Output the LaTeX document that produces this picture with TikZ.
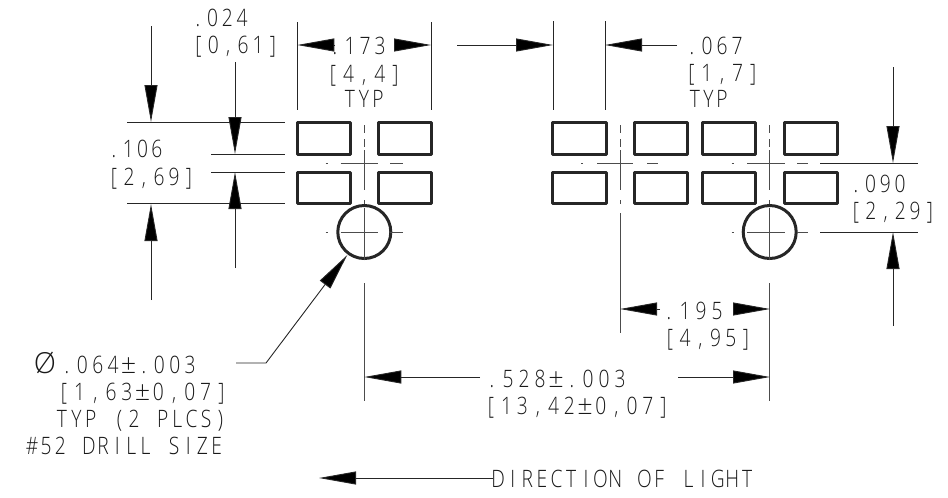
\documentclass[tikz,border=0pt]{standalone}
\usepackage{fontspec}
\usetikzlibrary{arrows.meta}
\setmainfont{Liberation Sans}
\newfontfamily\dimfont[FakeStretch=0.8]{Open Sans Light}
\newfontfamily\phifont{Open Sans Light}
\ExplSyntaxOn
\NewDocumentCommand\pitched{mm}{
  \str_map_inline:nn{#2}{\hbox_to_wd:nn{#1pt}{\hss ##1 \hss}}
}
\ExplSyntaxOff
\newcommand\pmbox[1]{\hbox to #1pt{\hss\phifont\fontsize{27}{27}\selectfont ±\hss}}
\tikzset{
  thinline/.style={line width=0.9pt,black!85},
  cline/.style={line width=0.9pt,black!70},
  pad/.style={line width=3pt,black!85,line join=round},
  hole/.style={line width=3pt,black!85},
  dim/.style={thinline,-{Triangle[length=37pt,width=13pt,fill=black]}},
  lbl/.style={anchor=base west,inner sep=0pt,outer sep=0pt,font=\dimfont\fontsize{24}{24}\selectfont,text=black!90}
}
\begin{document}
\begin{tikzpicture}[x=1pt,y=-1pt]
\useasboundingbox (0,0) rectangle (948,498);
% pads
\foreach \xa/\xb in {297.5/350,378/431.5,552.5/606,634/687.5,702.5/755.5,784/837}{
  \draw[pad] (\xa,122) rectangle (\xb,154);
  \draw[pad] (\xa,172) rectangle (\xb,203.5);
}
% holes
\draw[hole] (364.3,232) circle (26.5);
\draw[hole] (769.7,232) circle (26.5);
% centre lines, vertical
\foreach \cx in {364.3,620,769.7}{
  \draw[cline] (\cx,125)--(\cx,133) (\cx,139)--(\cx,147) (\cx,150)--(\cx,190) (\cx,200)--(\cx,204);
}
\draw[cline] (364.3,208)--(364.3,260) (364.3,283)--(364.3,401);
\draw[cline] (769.7,208)--(769.7,260) (769.7,283)--(769.7,401);
\draw[cline] (620,213)--(620,333);
% centre lines, horizontal
\foreach \cy in {163,232}{
  \draw[cline] (325.5,\cy)--(328,\cy) (340.7,\cy)--(378,\cy) (390,\cy)--(403,\cy);
  \draw[cline] (731.5,\cy)--(734,\cy) (747,\cy)--(785,\cy) (797,\cy)--(808,\cy);
}
\draw[cline] (581,163)--(583,163) (597,163)--(633,163) (647,163)--(658,163);
% extension lines
\draw[thinline] (127,122)--(285,122) (211,154)--(285,154) (211,172)--(285,172) (127,203.7)--(285,203.7);
\draw[thinline] (297.3,22)--(297.3,110) (431,22)--(431,110) (553,21)--(553,110) (605,21)--(605,110);
\draw[thinline] (820,163)--(918,163) (820,232)--(918,232);
% dimension arrows
\draw[dim] (151,26)--(151,122);
\draw[dim] (235,62)--(235,154);
\draw[dim] (235,268)--(235,172);
\draw[dim] (151,300)--(151,204);
\draw[dim] (335,45)--(297.3,45);
\draw[dim] (394,45)--(431,45);
\draw[dim] (457,45)--(553,45);
\draw[dim] (677,45)--(605,45);
\draw[dim] (893,67)--(893,163);
\draw[dim] (893,326)--(893,232);
\draw[dim] (660,309)--(620,309);
\draw[dim] (737,309)--(770,309);
\draw[dim] (480,377)--(364.3,377);
\draw[dim] (678,377)--(770,377);
\draw[dim] (236,363)--(266,363)--(347.3,255);
\draw[dim] (493,478)--(319,478);
% labels
\node[lbl] (a1) at (190.6,26) {\pitched{14.7}{.024}};
\node[lbl] (a2) at (191,53) {\pitched{14.9}{[0,61]}};
\node[lbl] (b1) at (106.8,157) {\pitched{14.3}{.106}};
\node[lbl] (b2) at (106.5,185) {\pitched{15}{[2,69]}};
\node[lbl] (c1) at (327.5,54) {\pitched{15}{.173}};
\node[lbl] (c2) at (325.2,82) {\pitched{15.6}{[4,4]}};
\node[lbl] (c3) at (343,107) {\pitched{14}{TYP}};
\node[lbl] (d1) at (684.5,54) {\pitched{15}{.067}};
\node[lbl] (d2) at (683.8,81) {\pitched{15.4}{[1,7]}};
\node[lbl] (d3) at (688.2,107) {\pitched{13.5}{TYP}};
\node[lbl] (e1) at (848.6,192) {\pitched{14.7}{.090}};
\node[lbl] (e2) at (848.6,219) {\pitched{14.8}{[2,29]}};
\node[lbl] (f1) at (661,319) {\pitched{16}{.195}};
\node[lbl] (f2) at (662.4,346) {\pitched{15.2}{[4,95]}};
\node[lbl] (g1) at (484,387) {\pitched{16}{.528}\pmbox{16}\pitched{16}{.003}};
\node[lbl] (g2) at (483,414) {\pitched{15.7}{[13,42}\pmbox{15.7}\pitched{15.7}{0,07]}};
\node[lbl,font=\phifont\fontsize{29}{29}\selectfont] (h1) at (34,373) {Ø};
\node[lbl] (h2) at (59.3,373) {\pitched{15.4}{.064}\pmbox{15.4}\pitched{15.4}{.003}};
\node[lbl] (h3) at (56,400) {\pitched{15.75}{[1,63}\pmbox{15.75}\pitched{15.75}{0,07]}};
\node[lbl] (h4) at (54.8,427) {\pitched{14.4}{TYP (2 PLCS)}};
\node[lbl] (h5) at (24.9,454) {\hbox to 14.2pt{\hss\#\hss}\pitched{14.2}{52 DRILL SIZE}};
\node[lbl] (i) at (490.7,487) {\pitched{14.65}{DIRECTION OF LIGHT}};
\end{tikzpicture}
\end{document}
